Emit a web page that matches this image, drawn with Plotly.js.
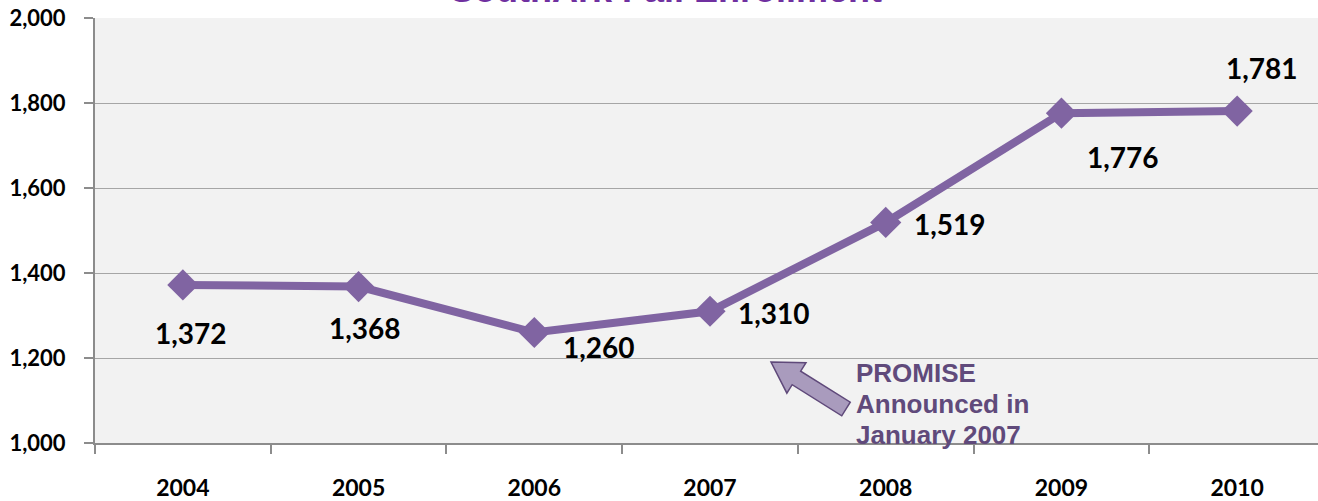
<!DOCTYPE html>
<html><head><meta charset="utf-8">
<script src="https://cdn.plot.ly/plotly-3.0.1.min.js"></script>
<style>html,body{margin:0;padding:0;background:#fff;}#chart{width:1318px;height:501px;}</style>
</head><body><div id="chart"></div>
<script>
const years = ['2004','2005','2006','2007','2008','2009','2010'];
const enrollment = [1372, 1368, 1260, 1310, 1519, 1776, 1781];
const labelText = ['1,372','1,368','1,260','1,310','1,519','1,776','1,781'];
const titleText = 'SouthArk Fall Enrollment';
const noteLines = ['PROMISE', 'Announced in', 'January 2007'];

// layout geometry
const W = 1318, H = 501, mL = 95, mR = 0, mT = 18, mB = 58;
const xr = [-0.5, 6.46], yr = [1000, 2000];
const pw = W - mL - mR, ph = H - mT - mB;
const px2x = p => xr[0] + (p - mL) / pw * (xr[1] - xr[0]);
const py2y = p => yr[0] + (H - mB - p) / ph * (yr[1] - yr[0]);

// label offsets in pixels (style)
const offs = [[8,48],[6,41],[65,14],[64,2],[64,2],[62,44],[25,-43]];

const annotations = years.map((yr_, i) => ({
  x: i, y: enrollment[i], xref: 'x', yref: 'y', text: labelText[i], showarrow: false,
  xshift: offs[i][0], yshift: -offs[i][1],
  font: {family: 'Lato, "Open Sans", sans-serif', size: 28, color: '#000', weight: 700}
}));
const noteY = [373, 404, 435];
noteLines.forEach((t, i) => annotations.push({
  x: px2x(854), y: py2y(noteY[i]), xref: 'x', yref: 'y', text: '<b>' + t + '</b>', showarrow: false,
  xanchor: 'left', yanchor: 'middle', align: 'left',
  font: {family: '"Liberation Sans", Arial, sans-serif', size: 26, color: '#604a7b'}
}));
annotations.push({
  x: 0.5, y: 1, xref: 'paper', yref: 'paper', text: '<b>' + titleText + '</b>', showarrow: false,
  xanchor: 'center', yanchor: 'bottom', yshift: 6, xshift: -41,
  font: {family: '"Liberation Sans", Arial, sans-serif', size: 36, color: '#7030a0'}
});

// block arrow (pixels -> data)
const T = [771, 362], E = [846, 409];
const dx = T[0]-E[0], dy = T[1]-E[1], L = Math.hypot(dx, dy);
const u = [dx/L, dy/L], n = [-u[1], u[0]];
const B = [T[0]-u[0]*30, T[1]-u[1]*30];
const pts = [
  T,
  [B[0]+n[0]*18, B[1]+n[1]*18],
  [B[0]+n[0]*8, B[1]+n[1]*8],
  [E[0]+n[0]*8, E[1]+n[1]*8],
  [E[0]-n[0]*8, E[1]-n[1]*8],
  [B[0]-n[0]*8, B[1]-n[1]*8],
  [B[0]-n[0]*18, B[1]-n[1]*18]
];
const path = 'M' + pts.map(p => px2x(p[0]) + ',' + py2y(p[1])).join(' L') + ' Z';

const trace = {
  x: years, y: enrollment, type: 'scatter', mode: 'lines+markers',
  line: {color: '#8064a2', width: 8},
  marker: {symbol: 'diamond', size: 24, color: '#8064a2'},
  hoverinfo: 'skip', cliponaxis: false
};

const layout = {
  width: W, height: H,
  margin: {l: mL, r: mR, t: mT, b: mB},
  paper_bgcolor: '#ffffff', plot_bgcolor: '#f2f2f2',
  showlegend: false,
  xaxis: {
    type: 'category', range: xr, tickson: 'boundaries',
    showgrid: false, showline: true, linecolor: '#8c8c8c', linewidth: 2,
    ticks: 'outside', ticklen: 9, tickcolor: '#8c8c8c', tickwidth: 2,
    ticklabelstandoff: 23,
    tickfont: {family: 'Lato, "Open Sans", sans-serif', size: 23, color: '#000', weight: 700},
    fixedrange: true
  },
  yaxis: {
    range: yr, dtick: 200, tickformat: ',d',
    showgrid: true, gridcolor: '#a6a6a6', gridwidth: 1,
    showline: true, linecolor: '#8c8c8c', linewidth: 2,
    ticks: 'outside', ticklen: 9, tickcolor: '#8c8c8c', tickwidth: 2,
    ticklabelstandoff: 14, zeroline: false,
    tickfont: {family: 'Lato, "Open Sans", sans-serif', size: 22, color: '#000', weight: 700},
    fixedrange: true
  },
  annotations: annotations,
  shapes: [{type: 'path', xref: 'x', yref: 'y', path: path,
            fillcolor: '#a99bbd', line: {color: '#5f497a', width: 1.5}}]
};

Plotly.newPlot('chart', [trace], layout, {displayModeBar: false, staticPlot: true});
</script>
</body></html>
